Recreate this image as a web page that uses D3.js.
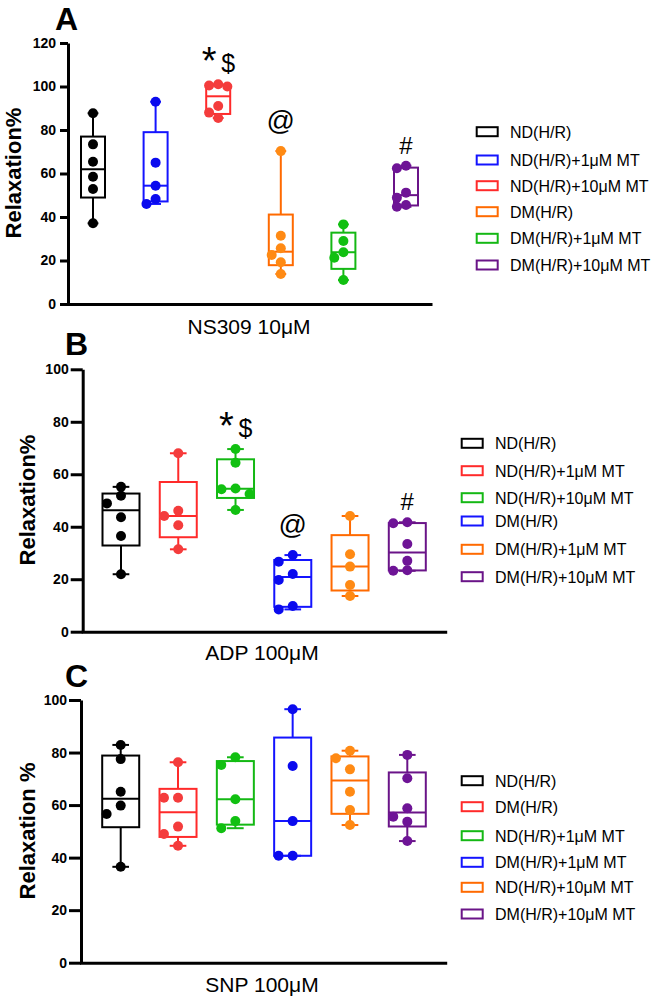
<!DOCTYPE html>
<html lang="en">
<head>
<meta charset="UTF-8" />
<title>Relaxation box plots</title>
<script src="https://d3js.org/d3.v7.min.js"></script>
<style>
  body { margin: 0; background: #fff; }
  svg text { font-family: Arial, "Liberation Sans", sans-serif; }
  .axis path, .axis line { stroke: #000; stroke-width: 3px; }
  .axis text { font-size: 14px; font-weight: bold; fill: #000; }
</style>
</head>
<body>
<svg id="svg" width="657" height="1000"></svg>
<script>
// ---- data ----
const labelsA = ["ND(H/R)", "ND(H/R)+1μM MT", "ND(H/R)+10μM MT", "DM(H/R)", "DM(H/R)+1μM MT", "DM(H/R)+10μM MT"];
const valuesA = [
  [37.1, 52.9, 58.5, 65.4, 73.4, 87.7],
  [46.0, 48.3, 54.4, 65.0, 93.0],
  [85.5, 88.0, 91.0, 100.0, 100.5, 101.0],
  [13.8, 19.2, 22.5, 25.6, 31.4, 70.3],
  [11.0, 21.3, 23.8, 29.0, 36.6],
  [44.7, 45.5, 48.9, 51.2, 62.4, 63.6]
];
const marksA = ["", "", "*$", "@", "", "#"];

const labelsB = ["ND(H/R)", "ND(H/R)+1μM MT", "ND(H/R)+10μM MT", "DM(H/R)", "DM(H/R)+1μM MT", "DM(H/R)+10μM MT"];
const valuesB = [
  [21.9, 36.5, 43.6, 48.9, 51.8, 55.2],
  [31.4, 40.6, 44.1, 46.1, 68.0],
  [46.4, 52.5, 54.3, 54.6, 64.4, 69.6],
  [8.5, 9.8, 19.7, 22.0, 26.7, 29.2],
  [13.6, 17.8, 24.8, 29.5, 44.1],
  [23.2, 23.4, 27.0, 33.4, 41.3, 41.7]
];
const marksB = ["", "", "*$", "@", "", "#"];

const labelsC = ["ND(H/R)", "DM(H/R)", "ND(H/R)+1μM MT", "DM(H/R)+1μM MT", "ND(H/R)+10μM MT", "DM(H/R)+10μM MT"];
const valuesC = [
  [36.5, 56.6, 59.8, 65.1, 77.5, 82.9],
  [44.5, 49.0, 51.8, 62.8, 62.8, 76.3],
  [51.2, 53.9, 62.2, 75.3, 78.2],
  [40.7, 40.7, 53.9, 74.9, 96.5],
  [52.4, 58.1, 65.1, 73.6, 77.8, 80.7],
  [46.3, 53.7, 55.6, 58.8, 70.2, 79.1]
];
const marksC = ["", "", "", "", "", ""];

// colours (box stroke / dot fill)
const C_BLACK = ["#000000", "#000000"];
const C_BLUE = ["#1414ff", "#0a0aee"];
const C_RED = ["#ff2a2a", "#f43c3c"];
const C_ORANGE = ["#ff6a00", "#ff8a14"];
const C_GREEN = ["#14b814", "#11c011"];
const C_PURPLE = ["#6a1488", "#6e1496"];

const panels = [
  { letter: "A", labels: labelsA, values: valuesA, marks: marksA, yMax: 120,
    colors: [C_BLACK, C_BLUE, C_RED, C_ORANGE, C_GREEN, C_PURPLE],
    title: "NS309 10μM", ylabel: "Relaxation%",
    x0: 68, x1: 432, yTop: 43, yBot: 304, first: 93, last: 406, bw: 24, tick: 8, pad: 4,
    letterPos: [55, 30], ylabPos: [21, 173], titlePos: [249, 334],
    legX: 476.7, legTextX: 510, legY: [131.7, 160, 185.7, 211.7, 238.3, 265] },
  { letter: "B", labels: labelsB, values: valuesB, marks: marksB, yMax: 100,
    colors: [C_BLACK, C_RED, C_GREEN, C_BLUE, C_ORANGE, C_PURPLE],
    title: "ADP 100μM", ylabel: "Relaxation%",
    x0: 82.7, x1: 446.7, yTop: 369.3, yBot: 631.7, first: 121, last: 407.3, bw: 37, tick: 12, pad: 2,
    letterPos: [65, 355], ylabPos: [35, 500], titlePos: [262, 660],
    legX: 461.7, legTextX: 495, legY: [443.3, 470.7, 497.7, 521, 549.3, 576.7] },
  { letter: "C", labels: labelsC, values: valuesC, marks: marksC, yMax: 100,
    colors: [C_BLACK, C_RED, C_GREEN, C_BLUE, C_ORANGE, C_PURPLE],
    title: "SNP 100μM", ylabel: "Relaxation %",
    x0: 81, x1: 446.7, yTop: 700, yBot: 962.7, first: 120.7, last: 407.3, bw: 37, tick: 12, pad: 2,
    letterPos: [65, 687], ylabPos: [35, 831], titlePos: [262, 992],
    legX: 461.7, legTextX: 495, legY: [780.7, 806.7, 835.7, 862.3, 887.3, 914] }
];

const svg = d3.select("#svg");

// GraphPad-style percentile: position p*(n+1)
function pct(sorted, p) {
  const n = sorted.length, h = p * (n + 1), lo = Math.floor(h);
  if (lo < 1) return sorted[0];
  if (lo >= n) return sorted[n - 1];
  return sorted[lo - 1] + (h - lo) * (sorted[lo] - sorted[lo - 1]);
}

// simple swarm so overlapping dots spread sideways
function swarm(ys, r, step) {
  const placed = [];
  const order = ys.map((y, i) => i).sort((a, b) => ys[a] - ys[b]);
  const off = new Array(ys.length).fill(0);
  order.forEach((i) => {
    const cands = [0, -step, step, -2 * step, 2 * step];
    for (const dx of cands) {
      const hit = placed.some((p) => (p.dx - dx) ** 2 + (p.y - ys[i]) ** 2 < (1.7 * r) ** 2);
      if (!hit) { off[i] = dx; placed.push({ dx, y: ys[i] }); break; }
    }
  });
  return off;
}

panels.forEach((P) => {
  const g = svg.append("g");
  const y = d3.scaleLinear().domain([0, P.yMax]).range([P.yBot, P.yTop]);
  const x = d3.scalePoint().domain(P.labels).range([P.first, P.last]);
  const r = 5;

  // boxes
  P.values.forEach((vals, i) => {
    const s = vals.slice().sort(d3.ascending);
    const q1 = pct(s, 0.25), med = pct(s, 0.5), q3 = pct(s, 0.75);
    const lo = s[0], hi = s[s.length - 1];
    const cx = x(P.labels[i]);
    const col = P.colors[i][0];
    const bg = g.append("g").attr("stroke", col).attr("stroke-width", 2).attr("fill", "none");
    bg.append("line").attr("x1", cx).attr("x2", cx).attr("y1", y(hi)).attr("y2", y(q3));
    bg.append("line").attr("x1", cx).attr("x2", cx).attr("y1", y(q1)).attr("y2", y(lo));
    const cw = P.bw * 0.45;
    bg.append("line").attr("x1", cx - cw / 2).attr("x2", cx + cw / 2).attr("y1", y(hi)).attr("y2", y(hi));
    bg.append("line").attr("x1", cx - cw / 2).attr("x2", cx + cw / 2).attr("y1", y(lo)).attr("y2", y(lo));
    bg.append("rect").attr("x", cx - P.bw / 2).attr("y", y(q3))
      .attr("width", P.bw).attr("height", y(q1) - y(q3));
    bg.append("line").attr("x1", cx - P.bw / 2).attr("x2", cx + P.bw / 2).attr("y1", y(med)).attr("y2", y(med));

    const ys = vals.map((v) => y(v));
    const offs = swarm(ys, r, Math.max(r * 1.8, P.bw * 0.38));
    g.append("g").selectAll("circle").data(vals).join("circle")
      .attr("cx", (d, j) => cx + offs[j])
      .attr("cy", (d) => y(d))
      .attr("r", r)
      .attr("fill", P.colors[i][1]);

    // significance marks
    const m = P.marks[i];
    if (m === "*$") {
      g.append("text").attr("x", cx - 9).attr("y", y(hi) - 10).attr("text-anchor", "middle")
        .attr("font-size", 38).text("*");
      g.append("text").attr("x", cx + 10).attr("y", y(hi) - 12).attr("text-anchor", "middle")
        .attr("font-size", 25).text("$");
    } else if (m === "@") {
      g.append("text").attr("x", cx).attr("y", y(hi) - 21).attr("text-anchor", "middle")
        .attr("font-size", 28).text("@");
    } else if (m === "#") {
      g.append("text").attr("x", cx).attr("y", y(hi) - 12).attr("text-anchor", "middle")
        .attr("font-size", 24).text("#");
    }
  });

  // axes
  g.append("g").attr("class", "axis")
    .attr("transform", `translate(${P.x0},0)`)
    .call(d3.axisLeft(y).tickValues(d3.range(0, P.yMax + 1, 20)).tickSize(P.tick).tickPadding(P.pad).tickSizeOuter(0));
  g.append("g").attr("class", "axis")
    .attr("transform", `translate(0,${P.yBot})`)
    .call(d3.axisBottom(d3.scaleLinear().range([P.x0 - 1.5, P.x1])).tickValues([]).tickSizeOuter(0));

  // labels
  g.append("text").attr("x", P.letterPos[0]).attr("y", P.letterPos[1])
    .attr("font-size", 32).attr("font-weight", "bold").text(P.letter);
  g.append("text").attr("transform", `translate(${P.ylabPos[0]},${P.ylabPos[1]}) rotate(-90)`)
    .attr("text-anchor", "middle").attr("font-size", 22).attr("font-weight", "bold").text(P.ylabel);
  g.append("text").attr("x", P.titlePos[0]).attr("y", P.titlePos[1])
    .attr("text-anchor", "middle").attr("font-size", 21).text(P.title);

  // legend
  const lg = g.append("g");
  P.labels.forEach((lab, i) => {
    const ly = P.legY[i];
    lg.append("rect").attr("x", P.legX).attr("y", ly - 4.5).attr("width", 21).attr("height", 9)
      .attr("fill", "none").attr("stroke", P.colors[i][0]).attr("stroke-width", 2);
    lg.append("text").attr("x", P.legTextX).attr("y", ly + 6).attr("font-size", 16).text(lab);
  });
});
</script>
</body>
</html>
